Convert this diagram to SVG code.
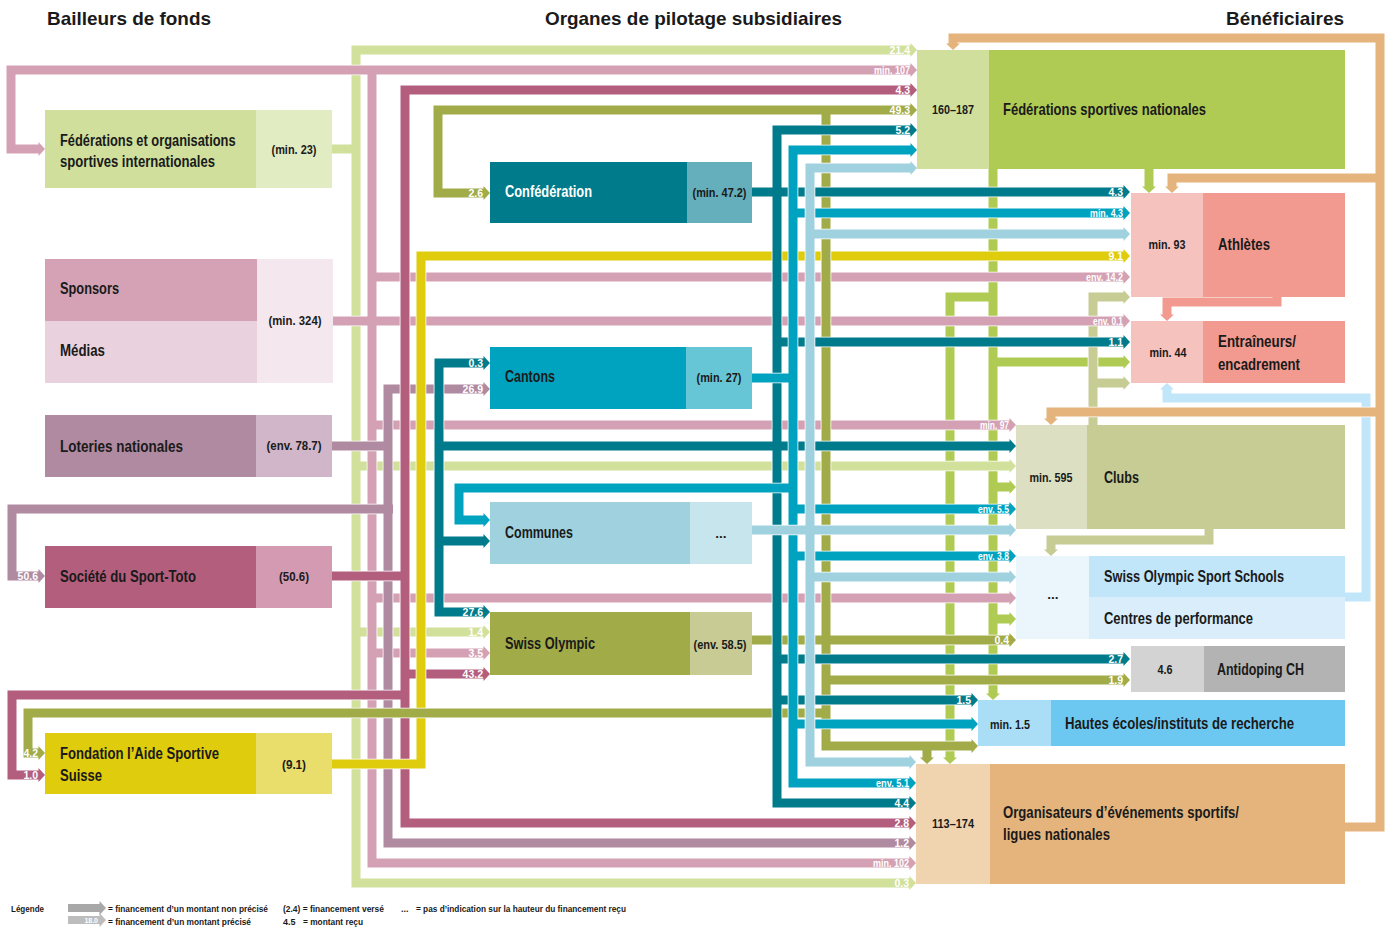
<svg xmlns="http://www.w3.org/2000/svg" xmlns:xlink="http://www.w3.org/1999/xlink" width="1386" height="928" viewBox="0 0 1386 928">
<style>
text{font-family:"Liberation Sans Narrow","Liberation Sans","DejaVu Sans Condensed",sans-serif;font-weight:bold;fill:#1a1a1a}
.ti{font-family:"Liberation Sans","DejaVu Sans",sans-serif;font-size:19px}
.lb{font-size:17px}
.vl{font-size:13.5px;text-anchor:middle}
.al{font-size:10.5px;fill:#fff;text-anchor:end}
.lg{font-size:9px}
.e{fill:none;stroke:#fff;stroke-width:10.6}
.s{fill:none;stroke-width:9}
</style>
<defs>
<path id="ah" d="M-6.5,-7 L0,0 L-6.5,7 Z"/>
<path id="p-gr" d="M993,169 V695 M993,297 H950 V759 M993,362 H1125 M993,487 H1011 M993,619 H1011 M1149,169 V188"/>
<path id="p-kh" d="M1093,425 V297 H1125 M1093,383 H1125 M1209,529 V540 H1051 V551"/>
<path id="p-sa" d="M1277,297 V302 H1167 V316"/>
<path id="p-lb" d="M1345,597 H1366 V398 H1167 V388"/>
<path id="p-or" d="M1345,827 H1380 V38 H953 V45 M1380,178 H1172 V188 M1380,412 H1051 V420"/>
<path id="p-lgr" d="M912,50 H356 V883 H911 M332,149 H356 M356,466 H1011 M356,632 H485"/>
<path id="p-pk" d="M912,70 H11 V149 H40 M372,70 V863 H911 M372,277 H1125 M332,321 H1125 M372,425 H1011 M372,598 H1011 M372,653 H485"/>
<path id="p-mv" d="M485,389 H388 V843 H911 M332,446 H388 M393,509 H12 V576 H40"/>
<path id="p-st" d="M912,90 H405 V823 H911 M332,576 H405 M405,674 H485 M409,695 H12 V775 H40"/>
<path id="p-ye" d="M332,764 H421 V256 H1125"/>
<path id="p-ol" d="M485,193 H438 V110 H912 M826,110 V746 H973 M752,640 H1011 M826,680 H1125 M826,713 H28 V753 H40 M927,746 V758"/>
<path id="p-te" d="M912,130 H777 V803 H911 M752,192 H1125 M777,342 H1125 M485,363 H439 V612 H485 M439,446 H1011 M439,541 H485 M777,659 H1125 M777,700 H973"/>
<path id="p-cy" d="M912,150 H793 V783 H911 M752,378 H793 M793,213 H1125 M793,488 H459 V520 H485 M793,509 H1011 M793,556 H1011 M793,724 H973"/>
<path id="p-co" d="M912,168 H810 V762 H911 M810,234 H1125 M752,530 H1011 M810,577 H1011"/>
</defs>
<rect width="1386" height="928" fill="#fff"/>

<g id="titles">
<text class="ti" x="47" y="25" textLength="164" lengthAdjust="spacingAndGlyphs">Bailleurs de fonds</text>
<text class="ti" x="545" y="25" textLength="297" lengthAdjust="spacingAndGlyphs">Organes de pilotage subsidiaires</text>
<text class="ti" x="1226" y="25" textLength="118" lengthAdjust="spacingAndGlyphs">Bénéficiaires</text>
</g>

<g id="connectors">
<g id="c-fsn">
<use href="#p-gr" class="e"/><use href="#p-gr" class="s" stroke="#b0cb54"/>
<g fill="#b0cb54">
<use href="#ah" transform="translate(993,700) rotate(90)"/>
<use href="#ah" transform="translate(950,764) rotate(90)"/>
<use href="#ah" transform="translate(1149,193) rotate(90)"/>
<use href="#ah" x="1130" y="362"/><use href="#ah" x="1016" y="487"/><use href="#ah" x="1016" y="619"/>
</g>
</g>
<g id="c-clubs">
<use href="#p-kh" class="e"/><use href="#p-kh" class="s" stroke="#c6cc94"/>
<g fill="#c6cc94">
<use href="#ah" x="1130" y="297"/><use href="#ah" x="1130" y="383"/>
<use href="#ah" transform="translate(1051,556) rotate(90)"/>
</g>
</g>
<g id="c-athl">
<use href="#p-sa" class="e"/><use href="#p-sa" class="s" stroke="#f29a90"/>
<use href="#ah" transform="translate(1167,321) rotate(90)" fill="#f29a90"/>
</g>
<g id="c-soss">
<use href="#p-lb" class="e"/><use href="#p-lb" class="s" stroke="#c1e5f9"/>
<use href="#ah" transform="translate(1167,383) rotate(-90)" fill="#c1e5f9"/>
</g>
<g id="c-org">
<use href="#p-or" class="e"/><use href="#p-or" class="s" stroke="#e5b47c"/>
<g fill="#e5b47c">
<use href="#ah" transform="translate(953,50) rotate(90)"/>
<use href="#ah" transform="translate(1172,193) rotate(90)"/>
<use href="#ah" transform="translate(1051,425) rotate(90)"/>
</g>
</g>
<g id="c-fedint">
<use href="#p-lgr" class="e"/><use href="#p-lgr" class="s" stroke="#d1e09b"/>
<g fill="#d1e09b">
<use href="#ah" x="917" y="50"/><use href="#ah" x="916" y="883"/><use href="#ah" x="1016" y="466"/><use href="#ah" x="490" y="632"/>
</g>
<text class="al" x="910" y="54">21.4</text><text class="al" x="909" y="887">0.3</text><text class="al" x="483" y="636">1.4</text>
</g>
<g id="c-spons">
<use href="#p-pk" class="e"/><use href="#p-pk" class="s" stroke="#d4a1b4"/>
<g fill="#d4a1b4">
<use href="#ah" x="917" y="70"/><use href="#ah" x="45" y="149"/><use href="#ah" x="916" y="863"/><use href="#ah" x="1130" y="277"/>
<use href="#ah" x="1130" y="321"/><use href="#ah" x="1016" y="425"/><use href="#ah" x="1016" y="598"/><use href="#ah" x="490" y="653"/>
</g>
<text class="al" x="910" y="74" textLength="36" lengthAdjust="spacingAndGlyphs">min. 107</text>
<text class="al" x="909" y="867" textLength="36" lengthAdjust="spacingAndGlyphs">min. 102</text>
<text class="al" x="1123" y="281" textLength="37" lengthAdjust="spacingAndGlyphs">env. 14.2</text>
<text class="al" x="1123" y="325" textLength="30" lengthAdjust="spacingAndGlyphs">env. 0.1</text>
<text class="al" x="1009" y="429" textLength="29" lengthAdjust="spacingAndGlyphs">min. 97</text>
<text class="al" x="483" y="657">3.5</text>
</g>
<g id="c-lot">
<use href="#p-mv" class="e"/><use href="#p-mv" class="s" stroke="#b08aa0"/>
<g fill="#b08aa0"><use href="#ah" x="490" y="389"/><use href="#ah" x="916" y="843"/><use href="#ah" x="45" y="576"/></g>
<text class="al" x="483" y="393">26.9</text><text class="al" x="909" y="847">1.2</text><text class="al" x="38" y="580">50.6</text>
</g>
<g id="c-toto">
<use href="#p-st" class="e"/><use href="#p-st" class="s" stroke="#b45e7e"/>
<g fill="#b45e7e"><use href="#ah" x="917" y="90"/><use href="#ah" x="916" y="823"/><use href="#ah" x="490" y="674"/><use href="#ah" x="45" y="775"/></g>
<text class="al" x="910" y="94">4.3</text><text class="al" x="909" y="827">2.8</text><text class="al" x="483" y="678">43.2</text><text class="al" x="38" y="779">1.0</text>
</g>
<g id="c-fond">
<use href="#p-ye" class="e"/><use href="#p-ye" class="s" stroke="#dfcc0c"/>
<use href="#ah" x="1130" y="256" fill="#dfcc0c"/>
<text class="al" x="1123" y="260">9.1</text>
</g>
<g id="c-so">
<use href="#p-ol" class="e"/><use href="#p-ol" class="s" stroke="#a1ab48"/>
<g fill="#a1ab48">
<use href="#ah" x="490" y="193"/><use href="#ah" x="917" y="110"/><use href="#ah" x="978" y="746"/><use href="#ah" x="1016" y="640"/>
<use href="#ah" x="1130" y="680"/><use href="#ah" x="45" y="753"/><use href="#ah" transform="translate(927,764) rotate(90)"/>
</g>
<text class="al" x="483" y="197">2.6</text><text class="al" x="910" y="114">49.3</text><text class="al" x="1009" y="644">0.4</text>
<text class="al" x="1123" y="684">1.9</text><text class="al" x="38" y="757">4.2</text>
</g>
<g id="c-conf">
<use href="#p-te" class="e"/><use href="#p-te" class="s" stroke="#007b8b"/>
<g fill="#007b8b">
<use href="#ah" x="917" y="130"/><use href="#ah" x="916" y="803"/><use href="#ah" x="1130" y="192"/><use href="#ah" x="1130" y="342"/>
<use href="#ah" x="490" y="363"/><use href="#ah" x="490" y="612"/><use href="#ah" x="1016" y="446"/><use href="#ah" x="490" y="541"/>
<use href="#ah" x="1130" y="659"/><use href="#ah" x="978" y="700"/>
</g>
<text class="al" x="910" y="134">5.2</text><text class="al" x="909" y="807">4.4</text><text class="al" x="1123" y="196">4.3</text>
<text class="al" x="1123" y="346">1.1</text><text class="al" x="483" y="367">0.3</text><text class="al" x="483" y="616">27.6</text>
<text class="al" x="1123" y="663">2.7</text><text class="al" x="971" y="704">1.5</text>
</g>
<g id="c-cant">
<use href="#p-cy" class="e"/><use href="#p-cy" class="s" stroke="#00a3bf"/>
<g fill="#00a3bf">
<use href="#ah" x="917" y="150"/><use href="#ah" x="916" y="783"/><use href="#ah" x="1130" y="213"/><use href="#ah" x="490" y="520"/>
<use href="#ah" x="1016" y="509"/><use href="#ah" x="1016" y="556"/><use href="#ah" x="978" y="724"/>
</g>
<text class="al" x="909" y="787" textLength="33" lengthAdjust="spacingAndGlyphs">env. 5.1</text>
<text class="al" x="1123" y="217" textLength="33" lengthAdjust="spacingAndGlyphs">min. 4.3</text>
<text class="al" x="1009" y="513" textLength="31" lengthAdjust="spacingAndGlyphs">env. 5.5</text>
<text class="al" x="1009" y="560" textLength="31" lengthAdjust="spacingAndGlyphs">env. 3.8</text>
</g>
<g id="c-comm">
<use href="#p-co" class="e"/><use href="#p-co" class="s" stroke="#9fd1df"/>
<g fill="#9fd1df">
<use href="#ah" x="917" y="168"/><use href="#ah" x="916" y="762"/><use href="#ah" x="1130" y="234"/><use href="#ah" x="1016" y="530"/><use href="#ah" x="1016" y="577"/>
</g>
</g>
</g>

<g id="n-fedint">
<rect x="45" y="110" width="211" height="78" fill="#d0e09c"/><rect x="256" y="110" width="76" height="78" fill="#e2ecc2"/>
<text class="lb" transform="translate(60,145.5) scale(0.76,1)" textLength="231" lengthAdjust="spacingAndGlyphs">Fédérations et organisations</text>
<text class="lb" transform="translate(60,166.5) scale(0.76,1)" textLength="204" lengthAdjust="spacingAndGlyphs">sportives internationales</text>
<text class="vl" x="294" y="154" textLength="45" lengthAdjust="spacingAndGlyphs">(min. 23)</text>
</g>
<g id="n-sponsors">
<rect x="45" y="259" width="212" height="62" fill="#d4a2b4"/><rect x="45" y="321" width="212" height="62" fill="#e9d2dd"/>
<rect x="257" y="259" width="76" height="124" fill="#f4e7ed"/>
<text class="lb" x="60" y="294" textLength="59" lengthAdjust="spacingAndGlyphs">Sponsors</text>
<text class="lb" x="60" y="356" textLength="45" lengthAdjust="spacingAndGlyphs">Médias</text>
<text class="vl" x="295" y="325" textLength="53" lengthAdjust="spacingAndGlyphs">(min. 324)</text>
</g>
<g id="n-loteries">
<rect x="45" y="415" width="211" height="62" fill="#b08aa0"/><rect x="256" y="415" width="76" height="62" fill="#d0b6c8"/>
<text class="lb" x="60" y="452" textLength="123" lengthAdjust="spacingAndGlyphs">Loteries nationales</text>
<text class="vl" x="294" y="450" textLength="55" lengthAdjust="spacingAndGlyphs">(env. 78.7)</text>
</g>
<g id="n-toto">
<rect x="45" y="546" width="211" height="62" fill="#b45e7e"/><rect x="256" y="546" width="76" height="62" fill="#d49ab2"/>
<text class="lb" x="60" y="582" textLength="136" lengthAdjust="spacingAndGlyphs">Société du Sport-Toto</text>
<text class="vl" x="294" y="581" textLength="30" lengthAdjust="spacingAndGlyphs">(50.6)</text>
</g>
<g id="n-fondation">
<rect x="45" y="733" width="211" height="61" fill="#dfcc0c"/><rect x="256" y="733" width="76" height="61" fill="#e9dd6c"/>
<text class="lb" x="60" y="759" textLength="159" lengthAdjust="spacingAndGlyphs">Fondation l’Aide Sportive</text>
<text class="lb" x="60" y="781" textLength="42" lengthAdjust="spacingAndGlyphs">Suisse</text>
<text class="vl" x="294" y="769" textLength="24" lengthAdjust="spacingAndGlyphs">(9.1)</text>
</g>

<g id="n-confed">
<rect x="490" y="162" width="197" height="61" fill="#007b8b"/><rect x="687" y="162" width="65" height="61" fill="#64afbb"/>
<text class="lb" x="505" y="197" textLength="87" lengthAdjust="spacingAndGlyphs" style="fill:#fff">Confédération</text>
<text class="vl" x="719.5" y="197" textLength="54" lengthAdjust="spacingAndGlyphs">(min. 47.2)</text>
</g>
<g id="n-cantons">
<rect x="490" y="347" width="196" height="62" fill="#00a3bf"/><rect x="686" y="347" width="66" height="62" fill="#66c6d6"/>
<text class="lb" x="505" y="382" textLength="50" lengthAdjust="spacingAndGlyphs">Cantons</text>
<text class="vl" x="719" y="382" textLength="45" lengthAdjust="spacingAndGlyphs">(min. 27)</text>
</g>
<g id="n-communes">
<rect x="490" y="502" width="200" height="62" fill="#9fd1df"/><rect x="690" y="502" width="62" height="62" fill="#c6e5ec"/>
<text class="lb" x="505" y="538" textLength="68" lengthAdjust="spacingAndGlyphs">Communes</text>
<text class="vl" x="721" y="538">...</text>
</g>
<g id="n-swissolympic">
<rect x="490" y="612" width="200" height="63" fill="#a1ab48"/><rect x="690" y="612" width="62" height="63" fill="#c8cc94"/>
<text class="lb" x="505" y="649" textLength="90" lengthAdjust="spacingAndGlyphs">Swiss Olympic</text>
<text class="vl" x="720" y="649" textLength="53" lengthAdjust="spacingAndGlyphs">(env. 58.5)</text>
</g>

<g id="n-fsn">
<rect x="917" y="50" width="72" height="119" fill="#d0e09c"/><rect x="989" y="50" width="356" height="119" fill="#b0cb54"/>
<text class="vl" x="953" y="114" textLength="42" lengthAdjust="spacingAndGlyphs">160–187</text>
<text class="lb" x="1003" y="115" textLength="203" lengthAdjust="spacingAndGlyphs">Fédérations sportives nationales</text>
</g>
<g id="n-athletes">
<rect x="1131" y="193" width="72" height="104" fill="#f6c2bd"/><rect x="1203" y="193" width="142" height="104" fill="#f29a90"/>
<text class="vl" x="1167" y="249" textLength="37" lengthAdjust="spacingAndGlyphs">min. 93</text>
<text class="lb" x="1218" y="250" textLength="52" lengthAdjust="spacingAndGlyphs">Athlètes</text>
</g>
<g id="n-entraineurs">
<rect x="1131" y="321" width="72" height="62" fill="#f6c2bd"/><rect x="1203" y="321" width="142" height="62" fill="#f29a90"/>
<text class="vl" x="1168" y="357" textLength="37" lengthAdjust="spacingAndGlyphs">min. 44</text>
<text class="lb" x="1218" y="347" textLength="78" lengthAdjust="spacingAndGlyphs">Entraîneurs/</text>
<text class="lb" x="1218" y="370" textLength="82" lengthAdjust="spacingAndGlyphs">encadrement</text>
</g>
<g id="n-clubs">
<rect x="1016" y="425" width="71" height="104" fill="#dcdfc1"/><rect x="1087" y="425" width="258" height="104" fill="#c6cc94"/>
<text class="vl" x="1051" y="482" textLength="43" lengthAdjust="spacingAndGlyphs">min. 595</text>
<text class="lb" x="1104" y="483" textLength="35" lengthAdjust="spacingAndGlyphs">Clubs</text>
</g>
<g id="n-soss">
<rect x="1016" y="556" width="73" height="83" fill="#ebf6fc"/>
<rect x="1089" y="556" width="256" height="41" fill="#c1e5f9"/><rect x="1089" y="597" width="256" height="42" fill="#d9eefa"/>
<text class="vl" x="1053" y="599">...</text>
<text class="lb" x="1104" y="582" textLength="180" lengthAdjust="spacingAndGlyphs">Swiss Olympic Sport Schools</text>
<text class="lb" x="1104" y="624" textLength="149" lengthAdjust="spacingAndGlyphs">Centres de performance</text>
</g>
<g id="n-antidoping">
<rect x="1131" y="646" width="73" height="46" fill="#d3d3d3"/><rect x="1204" y="646" width="141" height="46" fill="#b3b3b3"/>
<text class="vl" x="1165" y="674" textLength="15" lengthAdjust="spacingAndGlyphs">4.6</text>
<text class="lb" x="1217" y="675" textLength="87" lengthAdjust="spacingAndGlyphs">Antidoping CH</text>
</g>
<g id="n-hautes">
<rect x="978" y="700" width="73" height="46" fill="#a9def6"/><rect x="1051" y="700" width="294" height="46" fill="#6dc8f1"/>
<text class="vl" x="1010" y="729" textLength="40" lengthAdjust="spacingAndGlyphs">min. 1.5</text>
<text class="lb" x="1065" y="729" textLength="229" lengthAdjust="spacingAndGlyphs">Hautes écoles/instituts de recherche</text>
</g>
<g id="n-organisateurs">
<rect x="916" y="764" width="74" height="120" fill="#f0d4b0"/><rect x="990" y="764" width="355" height="120" fill="#e5b47c"/>
<text class="vl" x="953" y="828" textLength="42" lengthAdjust="spacingAndGlyphs">113–174</text>
<text class="lb" x="1003" y="818" textLength="236" lengthAdjust="spacingAndGlyphs">Organisateurs d’événements sportifs/</text>
<text class="lb" x="1003" y="840" textLength="107" lengthAdjust="spacingAndGlyphs">ligues nationales</text>
</g>

<g id="legend">
<text class="lg" x="11" y="912" textLength="33" lengthAdjust="spacingAndGlyphs">Légende</text>
<rect x="68" y="904" width="33" height="8" fill="#a8a8a8"/><use href="#ah" x="106" y="908" fill="#a8a8a8"/>
<text class="lg" x="108" y="912" textLength="160" lengthAdjust="spacingAndGlyphs">= financement d’un montant non précisé</text>
<rect x="68" y="916" width="33" height="8" fill="#bdbdbd"/><use href="#ah" x="106" y="920" fill="#bdbdbd"/>
<text class="al" x="98" y="923" style="font-size:7px">18.0</text>
<text class="lg" x="108" y="925" textLength="143" lengthAdjust="spacingAndGlyphs">= financement d’un montant précisé</text>
<text class="lg" x="283" y="912" textLength="101" lengthAdjust="spacingAndGlyphs">(2.4) = financement versé</text>
<text class="lg" x="283" y="925">4.5</text>
<text class="lg" x="303" y="925" textLength="60" lengthAdjust="spacingAndGlyphs">= montant reçu</text>
<text class="lg" x="401" y="912">...</text>
<text class="lg" x="416" y="912" textLength="210" lengthAdjust="spacingAndGlyphs">= pas d’indication sur la hauteur du financement reçu</text>
</g>
</svg>
